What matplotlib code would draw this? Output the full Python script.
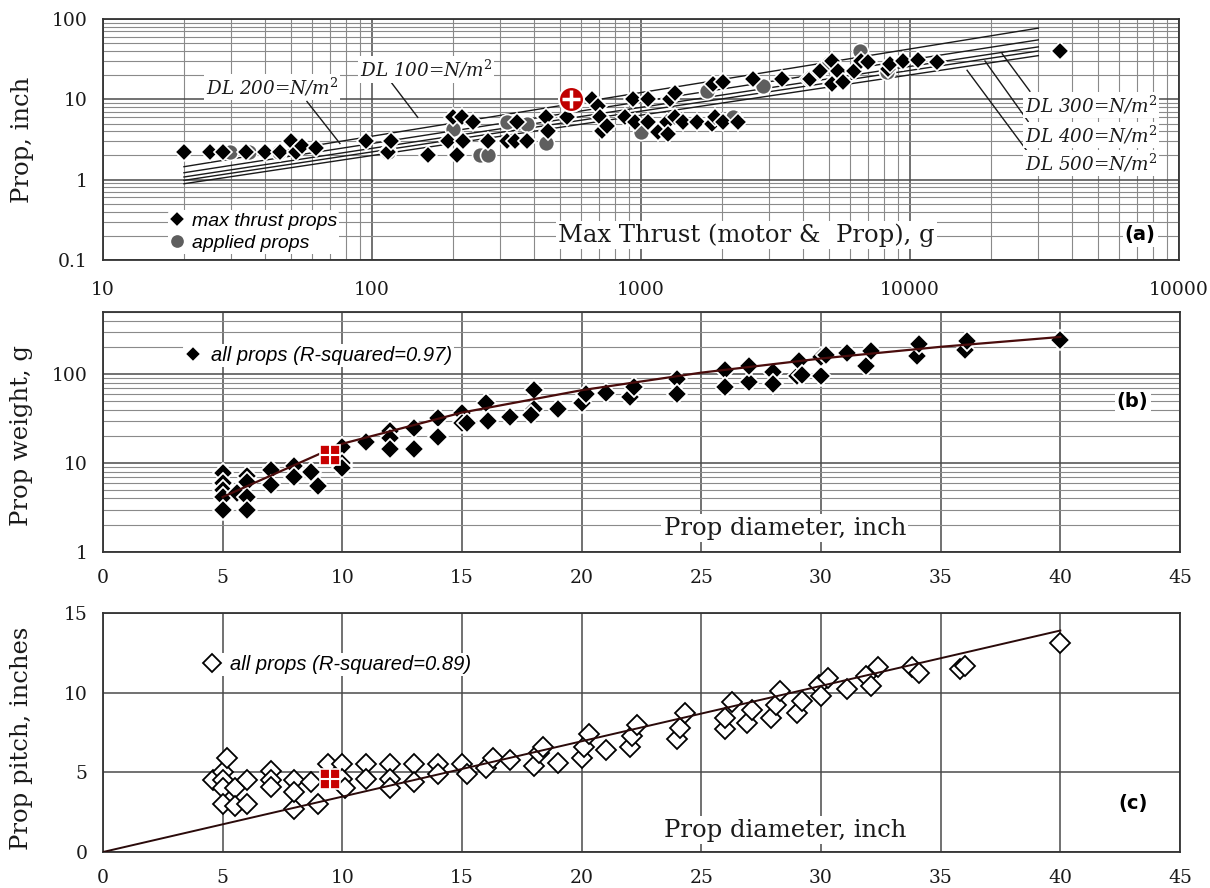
import numpy as np
import matplotlib
matplotlib.use('Agg')
import matplotlib.pyplot as plt
from matplotlib.ticker import LogLocator, NullFormatter

plt.rcParams['mathtext.fontset'] = 'dejavuserif'

# ---- panel (a): prop diameter vs max thrust ----
thrust_max = [20, 25, 28, 34, 40, 45.5, 50, 52, 55, 62, 95, 115, 118, 161, 192, 200, 207, 216,
              218, 237, 269, 318, 340, 347, 377, 445, 452, 531, 660, 690, 705, 716, 747, 871,
              933, 950, 1060, 1061, 1155, 1250, 1260, 1283, 1337, 1340, 1432, 1614, 1837, 1854,
              1884, 2018, 2018, 2292, 2607, 3340, 4170, 4250, 4570, 4620, 5130, 5130, 5390,
              5620, 6170, 6600, 7000, 8280, 8440, 9430, 10700, 12600, 36000]
diam_max = [2.2, 2.2, 2.2, 2.2, 2.2, 2.2, 3.0, 2.2, 2.6, 2.5, 3.0, 2.2, 3.0, 2.0, 3.0, 6.1, 2.05, 6.1,
            3.0, 5.2, 3.0, 3.0, 3.0, 5.2, 3.0, 6.1, 4.0, 6.0, 10.0, 8.2, 6.1, 4.0, 4.6, 6.1,
            10.0, 5.2, 5.2, 10.0, 3.9, 5.2, 3.7, 10.0, 6.1, 12.0, 5.2, 5.2, 4.9, 15.4,
            6.1, 5.2, 16.3, 5.2, 17.8, 17.8, 17.8, 17.8, 22.0, 22.4, 30.0, 15.4, 22.4,
            16.3, 22.4, 30.0, 29.0, 23.7, 27.4, 30.0, 30.6, 29.0, 40.0]

thrust_applied = [29.6, 35, 45, 115, 200, 252, 269, 318, 377, 445, 1000, 1760, 2190, 2830, 5000, 6520, 8200]
diam_applied = [2.2, 2.2, 2.2, 2.2, 4.3, 2.0, 2.0, 5.2, 5.0, 2.9, 3.9, 12.6, 6.0, 14.5, 28.0, 40.0, 21.7]

# disk loading reference lines, end points
dl_thrust = [20, 30000]
dl_100 = [1.45, 77]
dl_200 = [1.22, 55]
dl_300 = [1.08, 45]
dl_400 = [0.98, 40]
dl_500 = [0.89, 35]

red_a_x, red_a_y = [550], [10]

# ---- panel (b): prop weight vs diameter ----
diam_b = [5, 5, 5, 5, 5, 5.6, 6, 6, 6, 6, 7, 7, 8, 8, 8.7, 9, 10, 10, 10, 11,
          12, 12, 12, 13, 13, 14, 14, 15, 15, 15.2, 16, 16.1, 17, 18, 18, 17.9, 19, 20, 20.2, 21,
          22, 22.2, 24, 24, 26, 26, 27, 27, 28, 28, 29, 29.1, 29.2, 30, 30, 30.2, 31.1, 31.9,
          32.1, 34, 34.1, 36, 36.1, 40]
weight_b = [7.7, 6, 5, 4.2, 3, 4.6, 7.2, 6.1, 4.2, 3, 8.4, 5.7, 9.2, 7, 7.9, 5.5, 15, 10, 8.8, 17.3,
            23, 19, 14.3, 24.7, 14.3, 32, 19.6, 37, 28, 28, 47, 30, 33, 66, 41, 35, 41, 47, 60, 61,
            55, 72, 88, 60, 110, 72, 81, 125, 106, 78, 95, 140, 97, 95, 155, 163, 172, 125,
            180, 160, 220, 185, 235, 240]
trend_b_x = [5, 10, 15, 20, 25, 30, 35, 40]
trend_b_y = [4.15, 16.5, 37, 66, 104, 150, 203, 262]
red_b_x, red_b_y = [9.5], [12.3]

# ---- panel (c): prop pitch vs diameter ----
diam_c = [4.6, 5, 5, 5, 5, 5.2, 5.5, 5.5, 6, 6, 7, 7, 7, 8, 8, 8, 8.7, 9, 9.4, 10, 10, 10.1,
          11, 11, 12, 12, 12, 13, 13, 14, 14, 15, 15.2, 16, 16.3, 17, 18, 18.2, 18.4, 19,
          20, 20.1, 20.3, 21, 22, 22.1, 22.3, 24, 24.1, 24.3, 26, 26, 26.3, 26.9, 27.1,
          27.9, 28.1, 28.3, 29, 29.2, 29.9, 30, 30.3, 31.1, 31.9, 32.1, 32.4, 33.8, 34.1,
          35.8, 36, 40]
pitch_c = [4.5, 5, 4.5, 4, 3, 5.9, 4, 2.9, 4.5, 3, 5.1, 4.5, 4.1, 4.5, 2.7, 3.75, 4.4, 3, 5.5, 5.5, 4.6, 4,
           5.5, 4.6, 5.5, 4.6, 4, 5.5, 4.4, 5.5, 4.9, 5.5, 4.9, 5.3, 5.9, 5.8, 5.4, 6.2, 6.6, 5.6,
           5.9, 6.6, 7.4, 6.4, 6.6, 7.3, 8, 7.1, 7.8, 8.75, 7.75, 8.4, 9.4, 8.1, 8.9,
           8.4, 9.2, 10.1, 8.7, 9.5, 10.5, 9.8, 10.9, 10.2, 11.05, 10.4, 11.6, 11.6, 11.25,
           11.5, 11.7, 13.1]
trend_c_x = [0, 40]
trend_c_y = [0, 13.9]
red_c_x, red_c_y = [9.5], [4.6]

SERIF = 'DejaVu Serif'
SANS = 'Liberation Sans'
GRID_MAJ = '#4a4a4a'
GRID_MIN = '#8a8a8a'
LABEL_SIZE = 17.5

fig = plt.figure(figsize=(12.1, 8.88), dpi=100)
ax_a = fig.add_axes([103/1210, 1-260/888, 1076/1210, 241/888])
ax_b = fig.add_axes([103/1210, 1-552/888, 1077/1210, 240/888])
ax_c = fig.add_axes([103/1210, 1-852/888, 1077/1210, 239/888])


def style(ax, xpad):
    for s in ax.spines.values():
        s.set_color('#333333')
        s.set_linewidth(1.3)
    ax.tick_params(which='both', length=0, labelsize=13.5, colors='#1a1a1a')
    ax.tick_params(axis='x', pad=xpad)
    ax.tick_params(axis='y', pad=11)
    for lab in ax.get_xticklabels() + ax.get_yticklabels():
        lab.set_fontfamily(SERIF)
    ax.set_axisbelow(True)


def box_text(ax, x, y, s, **kw):
    ax.text(x, y, s, transform=ax.transAxes, ha='center', va='center',
            bbox=dict(facecolor='white', edgecolor='none', pad=1.5), zorder=6, **kw)


# ---------------- (a) ----------------
ax = ax_a
ax.set_xscale('log')
ax.set_yscale('log')
ax.set_xlim(10, 100000)
ax.set_ylim(0.1, 100)
ax.set_xticks([10, 100, 1000, 10000, 100000])
ax.set_xticklabels(['10', '100', '1000', '10000', '10000'])
ax.set_yticks([0.1, 1, 10, 100])
ax.set_yticklabels(['0.1', '1', '10', '100'])
ax.xaxis.set_minor_locator(LogLocator(base=10, subs=np.arange(2, 10), numticks=50))
ax.yaxis.set_minor_locator(LogLocator(base=10, subs=np.arange(2, 10), numticks=50))
ax.xaxis.set_minor_formatter(NullFormatter())
ax.yaxis.set_minor_formatter(NullFormatter())
ax.grid(which='major', color=GRID_MAJ, lw=1.1)
ax.grid(which='minor', color=GRID_MIN, lw=0.8)

for dl in [dl_100, dl_200, dl_300, dl_400, dl_500]:
    ax.plot(dl_thrust, dl, color='#1a1a1a', lw=1.0, zorder=2)

ax.plot(thrust_applied, diam_applied, 'o', ms=11.5, mfc='#5e5e5e', mec='white', mew=1.2,
        zorder=3, label='applied props')
ax.plot(thrust_max, diam_max, 'D', ms=9, mfc='black', mec='white', mew=1.2,
        zorder=4, label='max thrust props')
ax.plot(red_a_x, red_a_y, 'o', ms=18, mfc='#c00000', mec='white', mew=1.5, zorder=5)
ax.plot(red_a_x, red_a_y, '+', ms=13, mec='white', mew=2.5, zorder=5)

# leader lines for the disk loading labels
leaders = [((57.3, 9.4), (76, 2.82)), ((117, 16.8), (148, 5.96)),
           ((27900, 12.6), (22000, 37)), ((27500, 5.3), (19000, 30)),
           ((27500, 2.18), (16300, 23))]
for (x0, y0), (x1, y1) in leaders:
    ax.plot([x0, x1], [y0, y1], color='#1a1a1a', lw=1.0, zorder=3)

dl_font = dict(family=SERIF, style='italic', fontsize=13.2, color='#1a1a1a')
box_text(ax, 0.157, 0.718, 'DL 200=N/m$^{2}$', **dl_font)
box_text(ax, 0.300, 0.790, 'DL 100=N/m$^{2}$', **dl_font)
box_text(ax, 0.918, 0.643, 'DL 300=N/m$^{2}$', **dl_font)
box_text(ax, 0.918, 0.519, 'DL 400=N/m$^{2}$', **dl_font)
box_text(ax, 0.918, 0.402, 'DL 500=N/m$^{2}$', **dl_font)
box_text(ax, 0.598, 0.104, 'Max Thrust (motor &  Prop), g', family=SERIF, fontsize=LABEL_SIZE, color='#1a1a1a')
box_text(ax, 0.964, 0.104, '(a)', family='DejaVu Sans', fontweight='bold', fontsize=14)

h, l = ax.get_legend_handles_labels()
leg = ax.legend(h[::-1], l[::-1], loc='lower left', bbox_to_anchor=(0.060, 0.025),
                prop=dict(family=SANS, style='italic', size=14), frameon=True,
                facecolor='white', edgecolor='none', framealpha=1, borderpad=0.1,
                handlelength=0.8, handletextpad=0.35, labelspacing=0.25, borderaxespad=0,
                markerscale=0.9)
leg.set_zorder(7)
style(ax, 15)

# ---------------- (b) ----------------
ax = ax_b
ax.set_yscale('log')
ax.set_xlim(0, 45)
ax.set_ylim(1, 500)
ax.set_xticks(np.arange(0, 46, 5))
ax.set_yticks([1, 10, 100])
ax.set_yticklabels(['1', '10', '100'])
ax.yaxis.set_minor_locator(LogLocator(base=10, subs=np.arange(2, 10), numticks=50))
ax.yaxis.set_minor_formatter(NullFormatter())
ax.grid(which='major', color=GRID_MAJ, lw=1.1)
ax.grid(which='minor', axis='y', color=GRID_MIN, lw=0.8)

ax.plot(diam_b, weight_b, 'D', ms=10, mfc='black', mec='white', mew=1.3, zorder=3,
        label='all props (R-squared=0.97)')
ax.plot(trend_b_x, trend_b_y, color='#4a0c0c', lw=1.6, zorder=4)
ax.plot(red_b_x, red_b_y, 's', ms=15, mfc='#c80000', mec='white', mew=1.2, zorder=5)
ax.plot(red_b_x, red_b_y, '+', ms=15, mec='white', mew=1.5, zorder=5)
box_text(ax, 0.633, 0.100, 'Prop diameter, inch', family=SERIF, fontsize=LABEL_SIZE, color='#1a1a1a')
box_text(ax, 0.956, 0.625, '(b)', family='DejaVu Sans', fontweight='bold', fontsize=14)
leg = ax.legend(loc='center left', bbox_to_anchor=(0.074, 0.82),
                prop=dict(family=SANS, style='italic', size=14.5), frameon=True,
                facecolor='white', edgecolor='none', framealpha=1, borderpad=0.1,
                handlelength=0.8, handletextpad=0.5, borderaxespad=0, markerscale=0.8)
leg.set_zorder(7)
style(ax, 12)

# ---------------- (c) ----------------
ax = ax_c
ax.set_xlim(0, 45)
ax.set_ylim(0, 15)
ax.set_xticks(np.arange(0, 46, 5))
ax.set_yticks([0, 5, 10, 15])
ax.grid(which='major', color=GRID_MAJ, lw=1.1)

ax.plot(diam_c, pitch_c, 'D', ms=10, mfc='white', mec='black', mew=1.3, zorder=3,
        label='all props (R-squared=0.89)')
ax.plot(trend_c_x, trend_c_y, color='#2a0a0a', lw=1.4, zorder=4)
ax.plot(red_c_x, red_c_y, 's', ms=15, mfc='#c80000', mec='white', mew=1.2, zorder=5)
ax.plot(red_c_x, red_c_y, '+', ms=15, mec='white', mew=1.5, zorder=5)
box_text(ax, 0.633, 0.092, 'Prop diameter, inch', family=SERIF, fontsize=LABEL_SIZE, color='#1a1a1a')
box_text(ax, 0.956, 0.205, '(c)', family='DejaVu Sans', fontweight='bold', fontsize=14)
leg = ax.legend(loc='center left', bbox_to_anchor=(0.092, 0.785),
                prop=dict(family=SANS, style='italic', size=14.5), frameon=True,
                facecolor='white', edgecolor='none', framealpha=1, borderpad=0.1,
                handlelength=0.8, handletextpad=0.5, borderaxespad=0, markerscale=0.9)
leg.set_zorder(7)
style(ax, 12)

# y labels
ylab = dict(family=SERIF, fontsize=LABEL_SIZE, rotation=90, ha='center', va='center', color='#1a1a1a')
fig.text(22/1210, 1-140/888, 'Prop, inch', **ylab)
fig.text(22/1210, 1-435/888, 'Prop weight, g', **ylab)
fig.text(22/1210, 1-738/888, 'Prop pitch, inches', **ylab)

fig.savefig('out.png', dpi=100)
